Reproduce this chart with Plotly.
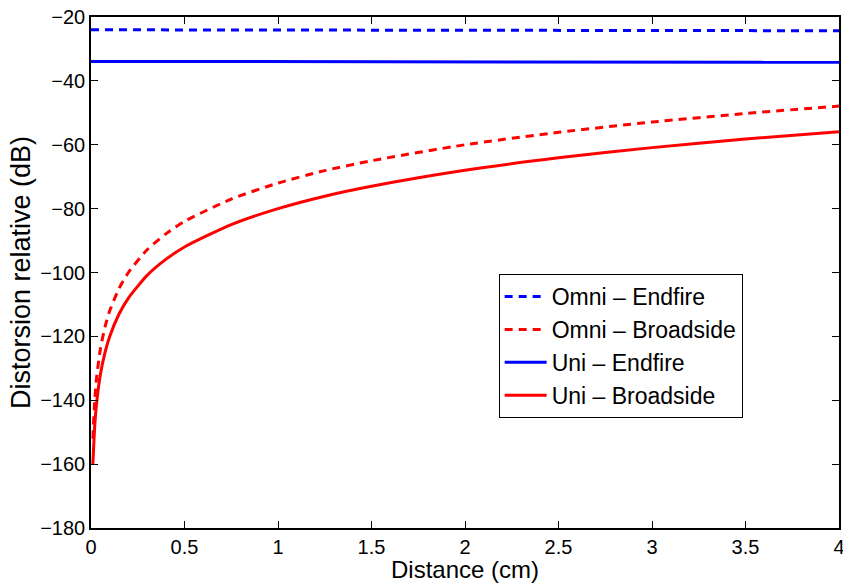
import plotly.graph_objects as go

# Distances (cm) at which curves were read
dist_red = [0.01, 0.02, 0.03, 0.05, 0.075, 0.1, 0.15, 0.2, 0.3, 0.4, 0.5,
            0.75, 1.0, 1.25, 1.5, 2.0, 2.5, 3.0, 3.5, 4.0]
uni_broadside = [-160.0, -148.0, -140.9, -132.0, -125.0, -120.0, -113.0, -108.0,
                 -100.9, -95.9, -92.0, -85.0, -80.0, -76.1, -73.0, -68.0, -64.1,
                 -60.9, -58.2, -55.9]
omni_broadside = [-152.0, -140.0, -132.9, -124.0, -117.0, -112.0, -105.0, -100.0,
                  -92.9, -87.9, -84.0, -77.0, -72.0, -68.1, -65.0, -60.0, -56.1,
                  -52.9, -50.2, -47.9]

dist_blue = [0.0, 1.0, 2.0, 3.0, 4.0]
omni_endfire = [-24.0, -24.1, -24.2, -24.25, -24.3]
uni_endfire = [-33.9, -33.95, -34.0, -34.15, -34.2]

x_ticks = [0, 0.5, 1, 1.5, 2, 2.5, 3, 3.5, 4]
x_ticklabels = ["0", "0.5", "1", "1.5", "2", "2.5", "3", "3.5", "4"]
y_ticks = [-180, -160, -140, -120, -100, -80, -60, -40, -20]

BLUE = "#0000ff"
RED = "#ff0000"
DASH = "8px,6px"
FONT = "Liberation Sans, Arial, sans-serif"

fig = go.Figure()
fig.add_trace(go.Scatter(x=dist_blue, y=omni_endfire, mode="lines", name="Omni – Endfire",
                         line=dict(color=BLUE, width=3, dash=DASH)))
fig.add_trace(go.Scatter(x=dist_red, y=omni_broadside, mode="lines", name="Omni – Broadside",
                         line=dict(color=RED, width=3, dash=DASH, shape="spline", smoothing=0.6)))
fig.add_trace(go.Scatter(x=dist_blue, y=uni_endfire, mode="lines", name="Uni – Endfire",
                         line=dict(color=BLUE, width=3)))
fig.add_trace(go.Scatter(x=dist_red, y=uni_broadside, mode="lines", name="Uni – Broadside",
                         line=dict(color=RED, width=3, shape="spline", smoothing=0.6)))

axis_common = dict(showline=True, linecolor="black", linewidth=1.5, mirror="allticks",
                   ticks="inside", ticklen=7, tickcolor="black", tickwidth=1,
                   showgrid=False, zeroline=False, automargin=False,
                   ticklabeloverflow="allow",
                   tickfont=dict(family=FONT, size=20, color="black"))

fig.update_layout(
    width=843, height=583,
    margin=dict(l=91, r=4, t=17, b=55),
    paper_bgcolor="white", plot_bgcolor="white",
    font=dict(family=FONT, color="black"),
    xaxis=dict(range=[0, 4], tickvals=x_ticks, ticktext=x_ticklabels,
               title=dict(text="Distance (cm)", font=dict(size=24), standoff=0), **axis_common),
    yaxis=dict(range=[-180, -20], tickvals=y_ticks,
               title=dict(text="Distorsion relative (dB)", font=dict(size=27), standoff=2), **axis_common),
    legend=dict(x=0.545, y=0.497, xanchor="left", yanchor="top",
                bordercolor="black", borderwidth=1, bgcolor="white",
                font=dict(size=23, color="black"), itemwidth=42),
    showlegend=True,
)

fig.write_html("out.html", config={"displayModeBar": False},
               post_script="document.body.style.margin='0px';")
